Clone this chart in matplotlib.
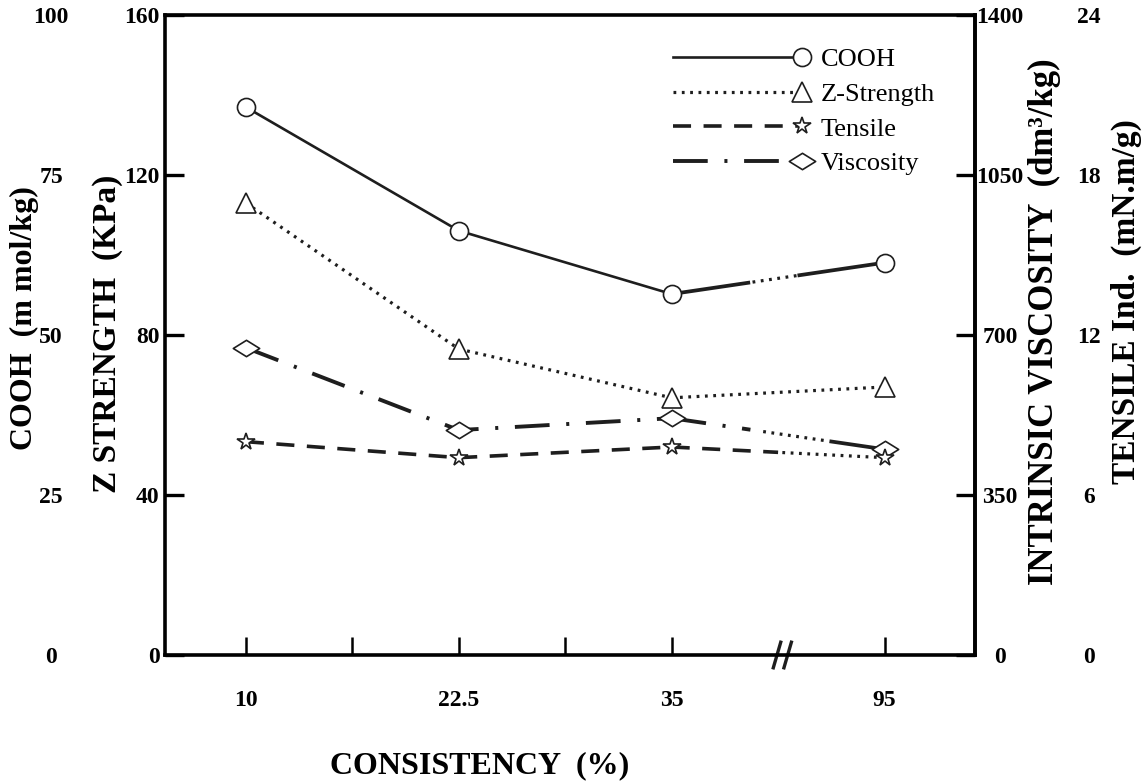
import numpy as np
import matplotlib
matplotlib.use("Agg")
import matplotlib.pyplot as plt
from matplotlib.lines import Line2D
from matplotlib.path import Path
from matplotlib.legend_handler import HandlerLine2D
import matplotlib.transforms as mtransforms

plt.rcParams['font.family'] = ['Liberation Serif', 'DejaVu Serif']
plt.rcParams['lines.scale_dashes'] = False

# data
consistency = ['10', '22.5', '35', '95']
x_pos = [0, 2, 4, 6]
cooh = [85.6, 66.3, 56.4, 61.3]          # m mol/kg
z_strength = [113.0, 76.5, 64.3, 67.0]    # KPa
tensile = [8.0, 7.4, 7.8, 7.4]            # mN.m/g
viscosity = [672, 492, 518, 450]          # dm3/kg

W, H = 1144, 782
fig = plt.figure(figsize=(W / 100, H / 100), dpi=100)
ax = fig.add_axes([165 / W, 1 - 655 / H, (975 - 165) / W, 640 / H])
ax_c = ax.twinx()
ax_v = ax.twinx()
ax_t = ax.twinx()

tsize = 17

# main axis: Z strength (left spine)
ax.set_xlim(-0.76, 6.85)
ax.set_ylim(0, 160)
ax.set_yticks([0, 40, 80, 120, 160])
ax.tick_params(axis='y', direction='in', length=14, width=2.4, pad=4, labelsize=tsize)
for s in ax.spines.values():
    s.set_linewidth(2.6)
ax.set_xticks([0, 2, 4, 6])
ax.set_xticklabels(consistency)
ax.set_xticks([1, 3], minor=True)
ax.tick_params(axis='x', which='both', direction='in', length=13, width=1.8, pad=25, labelsize=tsize)
for lab in ax.get_xticklabels() + ax.get_yticklabels():
    lab.set_fontweight('bold')

# COOH axis (far left, labels only)
ax_c.set_ylim(0, 100)
ax_c.set_yticks([0, 25, 50, 75, 100])
ax_c.yaxis.set_ticks_position('left')
ax_c.tick_params(axis='y', length=0, pad=82, labelsize=tsize)
for lab in ax_c.get_yticklabels():
    lab.set_ha('center')
    lab.set_fontweight('bold')
for s in ax_c.spines.values():
    s.set_visible(False)

# viscosity axis (right spine)
ax_v.set_ylim(0, 1400)
ax_v.set_yticks([0, 350, 700, 1050, 1400])
ax_v.tick_params(axis='y', direction='in', length=14, width=2.4, pad=18, labelsize=tsize)
ax_v.spines['right'].set_linewidth(2.6)
for k in ['left', 'top', 'bottom']:
    ax_v.spines[k].set_visible(False)
for lab in ax_v.get_yticklabels():
    lab.set_ha('center')
    lab.set_fontweight('bold')

# tensile axis (far right, labels only)
ax_t.set_ylim(0, 24)
ax_t.set_yticks([0, 6, 12, 18, 24])
ax_t.tick_params(axis='y', length=0, pad=82, labelsize=tsize)
for s in ax_t.spines.values():
    s.set_visible(False)
for lab in ax_t.get_yticklabels():
    lab.set_ha('center')
    lab.set_fontweight('bold')

ink = '#1e1e1e'
dotted = (0, (2.0, 4.0))
dashed = (0, (13, 9))
dashdot = (0, (25, 12, 2.2, 12))
widths = {'-': 1.9, 'dot': 2.3, 'dash': 2.6, 'dd': 2.8}

diamond = Path([(-1, 0), (0, 0.62), (1, 0), (0, -0.62), (-1, 0)],
               [Path.MOVETO, Path.LINETO, Path.LINETO, Path.LINETO, Path.CLOSEPOLY])


def lw_of(ls):
    if ls == '-':
        return widths['-']
    if ls == dotted:
        return widths['dot']
    if ls == dashed:
        return widths['dash']
    return widths['dd']


def draw_series(a, ys, main_ls, last_pieces, marker, ms):
    a.plot(x_pos[:3], ys[:3], color=ink, lw=lw_of(main_ls), ls=main_ls, dash_capstyle='butt')
    x0, x1 = x_pos[2], x_pos[3]
    y0, y1 = ys[2], ys[3]
    for f0, f1, ls in last_pieces:
        a.plot([x0 + f0 * (x1 - x0), x0 + f1 * (x1 - x0)],
               [y0 + f0 * (y1 - y0), y0 + f1 * (y1 - y0)],
               color=ink, lw=lw_of(ls) + (0.8 if ls == '-' and main_ls != dotted else 0),
               ls=ls, dash_capstyle='butt')
    a.plot(x_pos, ys, ls='none', marker=marker, ms=ms, mfc='white',
           mec=ink, mew=1.2, zorder=5)


draw_series(ax_c, cooh, '-', [(0, 0.36, '-'), (0.38, 0.59, dotted), (0.60, 1, '-')], 'o', 13)
draw_series(ax, z_strength, dotted, [(0, 1, dotted)], '^', 14)
draw_series(ax_t, tensile, dashed, [(0, 0.5, dashed), (0.52, 1, dotted)], '*', 13)
draw_series(ax_v, viscosity, dashdot, [(0, 0.37, dashdot), (0.43, 0.72, dotted), (0.75, 1, '-')], diamond, 19)

# axis break mark on the x axis
trans = mtransforms.blended_transform_factory(ax.transData, ax.transAxes)
for bx in [4.99, 5.09]:
    ax.plot([bx - 0.035, bx + 0.035], [-0.02, 0.02], color=ink, lw=2.4,
            transform=trans, clip_on=False)


class EndMarker(HandlerLine2D):
    def create_artists(self, *args, **kw):
        arts = super().create_artists(*args, **kw)
        for a in arts:
            if isinstance(a, Line2D):
                n = len(a.get_xdata())
                a.set_markevery([n - 1])
        return arts


def proxy(ls, marker, ms):
    return Line2D([], [], color=ink, lw=lw_of(ls), ls=ls, marker=marker, ms=ms,
                  mfc='white', mec=ink, mew=1.2, dash_capstyle='butt')


handles = [proxy('-', 'o', 13), proxy(dotted, '^', 14),
           proxy(dashed, '*', 13), proxy(dashdot, diamond, 19)]
labels = ['COOH', 'Z-Strength', 'Tensile', 'Viscosity']
ax_t.legend(handles, labels, loc='upper left', bbox_to_anchor=(673 / W, 1 - 48 / H),
            bbox_transform=fig.transFigure, frameon=False, fontsize=19,
            handlelength=4.9, handletextpad=0.7, labelspacing=0.42, borderpad=0,
            borderaxespad=0, numpoints=2, handler_map={Line2D: EndMarker(marker_pad=0)})

# axis titles
fig.text(480 / W, 1 - 766 / H, 'CONSISTENCY  (%)', ha='center', va='center',
         fontsize=23, fontweight='bold')
fig.text(24 / W, 1 - 318 / H, 'COOH  (m mol/kg)', ha='center', va='center',
         rotation=90, fontsize=23, fontweight='bold')
fig.text(108 / W, 1 - 334 / H, 'Z STRENGTH  (KPa)', ha='center', va='center',
         rotation=90, fontsize=24, fontweight='bold')
fig.text(1044 / W, 1 - 322 / H, 'INTRINSIC VISCOSITY  (dm³/kg)', ha='center', va='center',
         rotation=90, fontsize=25, fontweight='bold')
fig.text(1126 / W, 1 - 302 / H, 'TENSILE Ind.  (mN.m/g)', ha='center', va='center',
         rotation=90, fontsize=24, fontweight='bold')

fig.savefig('out.png', dpi=100)
